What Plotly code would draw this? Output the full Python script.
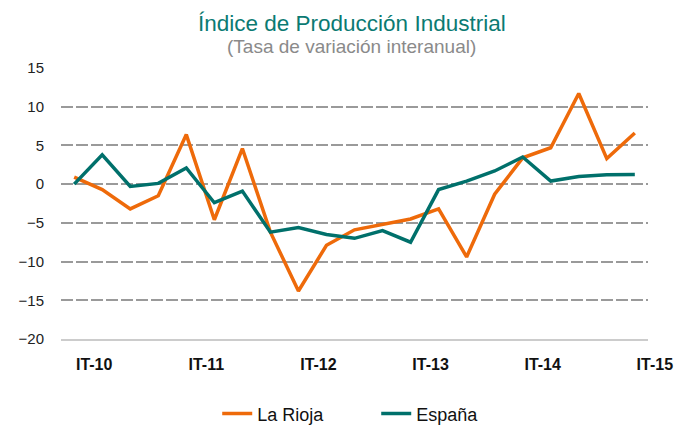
import plotly.graph_objects as go

# Trimestres IT-10 ... IT-15
trimestres = [
    "IT-10", "IIT-10", "IIIT-10", "IVT-10",
    "IT-11", "IIT-11", "IIIT-11", "IVT-11",
    "IT-12", "IIT-12", "IIIT-12", "IVT-12",
    "IT-13", "IIT-13", "IIIT-13", "IVT-13",
    "IT-14", "IIT-14", "IIIT-14", "IVT-14",
    "IT-15",
]
etiquetas = ["IT-10", "IT-11", "IT-12", "IT-13", "IT-14", "IT-15"]

la_rioja = [0.9, -0.7, -3.2, -1.5, 6.4, -4.6, 4.6, -6.2, -13.8, -7.9,
            -5.9, -5.2, -4.5, -3.2, -9.4, -1.3, 3.4, 4.7, 11.7, 3.3, 6.6]
espana = [0.0, 3.8, -0.3, 0.1, 2.1, -2.4, -0.9, -6.2, -5.6, -6.5,
          -7.0, -6.0, -7.5, -0.7, 0.4, 1.7, 3.5, 0.4, 1.0, 1.2, 1.25]

titulo = "Índice de Producción Industrial"
subtitulo = "(Tasa de variación interanual)"

NARANJA = "#EE6A0A"
VERDE = "#00706B"
FUENTE = "Liberation Sans"

fig = go.Figure()
fig.add_trace(go.Scatter(x=trimestres, y=la_rioja, name="La Rioja", mode="lines",
                         line=dict(color=NARANJA, width=3.5)))
fig.add_trace(go.Scatter(x=trimestres, y=espana, name="España", mode="lines",
                         line=dict(color=VERDE, width=3.5)))

fig.update_layout(
    width=689, height=425,
    margin=dict(l=61, r=41, t=68, b=86, autoexpand=False),
    paper_bgcolor="white", plot_bgcolor="white",
    font=dict(family=FUENTE, size=14, color="#222"),
    showlegend=True,
    legend=dict(orientation="h", x=0.537, xanchor="center", y=-0.276, yanchor="middle",
                font=dict(size=18, color="#111"), entrywidth=114, entrywidthmode="pixels"),
)

# título y subtítulo como anotaciones
fig.add_annotation(text=titulo, xref="paper", yref="paper", x=0.495, y=1.166,
                   xanchor="center", yanchor="middle", showarrow=False,
                   font=dict(family=FUENTE, size=22.5, color="#0B7A72"))
fig.add_annotation(text=subtitulo, xref="paper", yref="paper", x=0.495, y=1.081,
                   xanchor="center", yanchor="middle", showarrow=False,
                   font=dict(family=FUENTE, size=19, color="#8a8a8a"))

fig.update_xaxes(
    type="category", range=[-0.47, 20.47],
    tickvals=etiquetas, ticktext=etiquetas,
    showgrid=False, showline=True, linecolor="#cccccc", linewidth=1.5,
    ticks="", tickfont=dict(size=16, color="#111", weight="bold"),
    ticklabelshift=20, ticklabelstandoff=10,
)
fig.update_yaxes(
    range=[-20, 15], dtick=5, tick0=-20,
    showgrid=True, gridcolor="#9a9a9a", gridwidth=2, griddash="12px,3px",
    zeroline=False, showline=False, ticks="",
    tickfont=dict(size=15, color="#222"), ticklabelstandoff=16,
)

fig.write_html("out.html", config={"displayModeBar": False},
               post_script="document.body.style.margin='0';")
